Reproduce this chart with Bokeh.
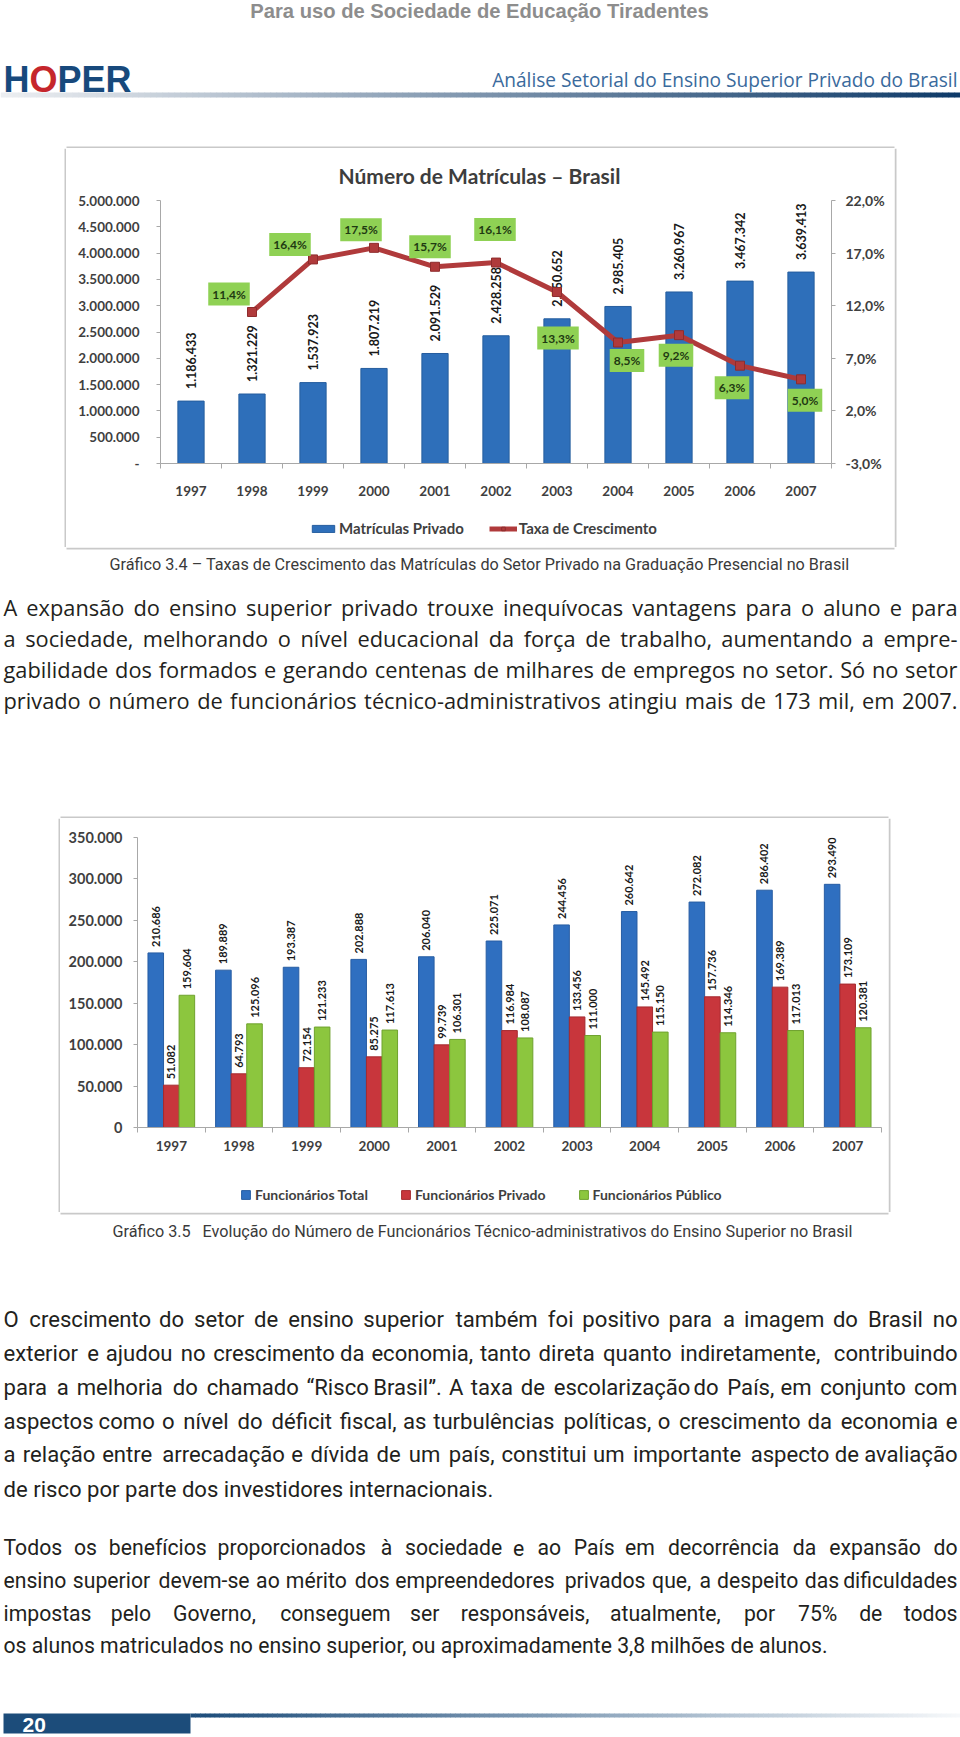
import math
import unicodedata
from bokeh.plotting import figure
from bokeh.layouts import column, row
from bokeh.models import Range1d, FixedTicker, LinearAxis, Legend, LegendItem
from bokeh.core.properties import value
from bokeh.embed import file_html
from bokeh.resources import INLINE

# ---------------- data ----------------
years = ["1997", "1998", "1999", "2000", "2001", "2002", "2003", "2004", "2005", "2006", "2007"]
matriculas_privado = [1186433, 1321229, 1537923, 1807219, 2091529, 2428258,
                      2750652, 2985405, 3260967, 3467342, 3639413]
taxa_crescimento = [None, 11.4, 16.4, 17.5, 15.7, 16.1, 13.3, 8.5, 9.2, 6.3, 5.0]

func_total = [210686, 189889, 193387, 202888, 206040, 225071, 244456, 260642, 272082, 286402, 293490]
func_privado = [51082, 64793, 72154, 85275, 99739, 116984, 133456, 145492, 157736, 169389, 173109]
func_publico = [159604, 125096, 121233, 117613, 106301, 108087, 111000, 115150, 114346, 117013, 120381]

left_ticks_1 = [0, 500000, 1000000, 1500000, 2000000, 2500000, 3000000, 3500000, 4000000, 4500000, 5000000]
right_ticks_1 = [-3, 2, 7, 12, 17, 22]
left_ticks_2 = [0, 50000, 100000, 150000, 200000, 250000, 300000, 350000]

header_text = "Para uso de Sociedade de Educação Tiradentes"
subtitle_text = "Análise Setorial do Ensino Superior Privado do Brasil"
chart1_title = "Número de Matrículas – Brasil"
caption1 = "Gráfico 3.4 – Taxas de Crescimento das Matrículas do Setor Privado na Graduação Presencial no Brasil"
caption2_a = "Gráfico 3.5"
caption2_b = "Evolução do Número de Funcionários Técnico-administrativos do Ensino Superior no Brasil"
par1 = [
    "A expansão do ensino superior privado trouxe inequívocas vantagens para o aluno e para",
    "a sociedade, melhorando o nível educacional da força de trabalho, aumentando a empre-",
    "gabilidade dos formados e gerando centenas de milhares de empregos no setor. Só no setor",
    "privado o número de funcionários técnico-administrativos atingiu mais de 173 mil, em 2007.",
]
par2 = [
    "O crescimento do setor de ensino superior também foi positivo para a imagem do Brasil no",
    "exterior e ajudou no crescimento da economia, tanto direta quanto indiretamente, contribuindo",
    "para a melhoria do chamado “Risco Brasil”. A taxa de escolarização do País, em conjunto com",
    "aspectos como o nível do déficit fiscal, as turbulências políticas, o crescimento da economia e",
    "a relação entre arrecadação e dívida de um país, constitui um importante aspecto de avaliação",
    "de risco por parte dos investidores internacionais.",
]
par3 = [
    "Todos os benefícios proporcionados à sociedade e ao País em decorrência da expansão do",
    "ensino superior devem-se ao mérito dos empreendedores privados que, a despeito das dificuldades",
    "impostas pelo Governo, conseguem ser responsáveis, atualmente, por 75% de todos",
    "os alunos matriculados no ensino superior, ou aproximadamente 3,8 milhões de alunos.",
]
page_number = "20"

# ---------------- helpers ----------------
_OS = dict(zip("abcdefghijklmnopqrstuvwxyz",
               [.556, .613, .48, .613, .561, .336, .546, .614, .252, .252, .529, .252, .93,
                .614, .602, .613, .613, .41, .48, .35, .614, .499, .775, .518, .502, .468]))
_OS.update(zip("ABCDEFGHIJKLMNOPQRSTUVWXYZ",
               [.633, .647, .631, .729, .556, .516, .728, .738, .279, .267, .614, .519, .903,
                .754, .779, .602, .779, .618, .549, .553, .729, .6, .93, .577, .556, .572]))
_OS.update({d: .572 for d in "0123456789"})
_OS.update({" ": .26, ",": .245, ".": .267, "-": .32, "–": .5, "%": .83, "“": .35, "”": .35,
            ":": .267, "(": .3, ")": .3})
FONT_F = {"Open Sans": 1.0, "Roboto": 0.95, "Lato": 0.93, "Liberation Sans": 1.03}
PAGE_W = 960
BOX_COL = "#c9c9c9"
NAN = float("nan")


def em(s):
    t = 0.0
    for c in s:
        b = unicodedata.normalize("NFD", c)[0]
        t += _OS.get(b, .55)
    return t


def fmt_int(v):
    return f"{v:,}".replace(",", ".")


def fmt_pct(v):
    return f"{v:.1f}".replace(".", ",") + "%"


def page_fig(top, bottom, x0=0, x1=PAGE_W):
    p = figure(width=x1 - x0, height=bottom - top, x_range=Range1d(x0, x1), y_range=Range1d(bottom, top),
               output_backend="svg", toolbar_location=None, min_border=0,
               x_axis_location=None, y_axis_location=None, outline_line_color=None,
               background_fill_color="white", border_fill_color="white")
    p.grid.visible = False
    return p


def lerp_col(c0, c1, t):
    return "#%02x%02x%02x" % tuple(int(round(a + (b - a) * t)) for a, b in zip(c0, c1))


def draw_par(p, lines, ys, x0, x1, font, size_target, color, justify):
    f = FONT_F[font]
    W = x1 - x0
    s = size_target
    for ln, j in zip(lines, justify):
        if j:
            s = min(s, 0.985 * W / (f * em(ln)))
    lx, ly, lt, rx, ry, rt = [], [], [], [], [], []
    for ln, y, j in zip(lines, ys, justify):
        words = ln.split(" ")
        if j and len(words) > 1:
            widths = [s * f * em(w) for w in words]
            gap = (W - sum(widths)) / (len(words) - 1)
            x = x0
            for w, a in zip(words[:-1], widths[:-1]):
                lx.append(x); ly.append(y); lt.append(w)
                x += a + gap
            rx.append(x1); ry.append(y); rt.append(words[-1])
        else:
            lx.append(x0); ly.append(y); lt.append(ln)
    common = dict(text_font=value(font), text_font_size=f"{s:.1f}px", text_color=color,
                  text_baseline="middle")
    p.text(x=lx, y=ly, text=lt, text_align="left", **common)
    if rx:
        p.text(x=rx, y=ry, text=rt, text_align="right", **common)


def style_axis(ax, size, standoff):
    ax.major_label_text_font = "Lato"
    ax.major_label_text_font_style = "bold"
    ax.major_label_text_font_size = size
    ax.major_label_text_color = "#3f3f3f"
    ax.axis_line_color = "#a8a8a8"
    ax.major_tick_line_color = "#a8a8a8"
    ax.major_label_standoff = standoff


def legend_fig(width, height):
    p = figure(width=width, height=height, x_range=Range1d(0, 1), y_range=Range1d(0, 1),
               output_backend="svg", toolbar_location=None, min_border=0,
               x_axis_location=None, y_axis_location=None, outline_line_color=None,
               background_fill_color="white", border_fill_color="white")
    p.grid.visible = False
    return p


def box_side(top, bottom, x0, x1, line_x0, line_x1):
    p = page_fig(top, bottom, x0, x1)
    p.quad(left=line_x0, right=line_x1, top=top, bottom=bottom, color=BOX_COL, line_color=None)
    return p


# ---------------- header ----------------
hdr = page_fig(0, 148)
hs = 456 / (FONT_F["Liberation Sans"] * em(header_text))
hdr.text(x=[479], y=[10], text=[header_text], text_align="center", text_baseline="middle",
         text_font=value("Liberation Sans"), text_font_style="bold", text_font_size=f"{hs:.1f}px",
         text_color="#8d8d8d")
logo_sz = 36
hdr.text(x=[3], y=[79], text=["H"], text_font=value("Liberation Sans"), text_font_style="bold",
         text_font_size=f"{logo_sz}px", text_color="#17497c", text_baseline="middle")
hdr.text(x=[3 + .722 * logo_sz], y=[79], text=["O"], text_font=value("Liberation Sans"),
         text_font_style="bold", text_font_size=f"{logo_sz}px", text_color="#c5262c",
         text_baseline="middle")
hdr.text(x=[3 + 1.5 * logo_sz], y=[79], text=["PER"], text_font=value("Liberation Sans"),
         text_font_style="bold", text_font_size=f"{logo_sz}px", text_color="#17497c",
         text_baseline="middle")
ss = 467 / em(subtitle_text)
hdr.text(x=[957], y=[79], text=[subtitle_text], text_align="right", text_baseline="middle",
         text_font=value("Open Sans"), text_font_size=f"{ss:.1f}px", text_color="#3a6a9c")
nseg = 160
gl = [PAGE_W * k / nseg for k in range(nseg)]
gr = [PAGE_W * (k + 1) / nseg + 0.6 for k in range(nseg)]
gc = [lerp_col((236, 238, 241), (14, 58, 104), k / (nseg - 1)) for k in range(nseg)]
hdr.quad(left=gl, right=gr, top=92, bottom=97, color=gc, line_color=None)
# top edge of chart-1 box
hdr.quad(left=66, right=894, top=146, bottom=148, color=BOX_COL, line_color=None)

# ---------------- chart 1 ----------------
xi = list(range(len(years)))
BAR1, LINE1 = "#2e6fba", "#b03a3b"
p1 = figure(width=828, height=352, output_backend="svg", toolbar_location=None,
            x_range=Range1d(-0.5, 10.5), y_range=Range1d(0, 5000000),
            min_border_left=94, min_border_right=63, min_border_top=51, min_border_bottom=37,
            outline_line_color=None, border_fill_color="white", background_fill_color="white",
            title=chart1_title)
p1.grid.visible = False
p1.title.align = "left"
p1.title.offset = 178
p1.title.standoff = 25
p1.title.text_font = "Lato"
p1.title.text_font_size = "21px"
p1.title.text_font_style = "bold"
p1.title.text_color = "#3d3d3d"
p1.extra_y_ranges = {"pct": Range1d(-3, 22)}

p1.vbar(x=xi, top=matriculas_privado, width=0.43, fill_color=BAR1, line_color="#255d9e")
bar_lbl = [fmt_int(v) for v in matriculas_privado]
p1.text(x=xi, y=matriculas_privado, text=bar_lbl, angle=math.pi / 2, y_offset=-12,
        text_align="left", text_baseline="middle", text_font=value("Lato"), text_font_style="bold",
        text_font_size="12.5px", text_color="#1a1a1a")

lx = [i for i, v in zip(xi, taxa_crescimento) if v is not None]
ly = [v for v in taxa_crescimento if v is not None]
p1.line(x=lx, y=ly, y_range_name="pct", line_color=LINE1, line_width=5)
p1.scatter(x=lx, y=ly, y_range_name="pct", marker="square", size=9,
           fill_color=LINE1, line_color="#8e2c2d")
# label box offsets (screen px) - placement only
pct_dx = [-23, -23, -13, -5, -1, 1, 9, -3, -8, 4]
pct_dy = [-18, -15, -18, -20, -33, 46, 18, 20, 22, 21]
p1.text(x=lx, y=ly, text=[fmt_pct(v) for v in ly], y_range_name="pct",
        x_offset=pct_dx, y_offset=pct_dy, text_align="center", text_baseline="middle",
        text_font=value("Lato"), text_font_style="bold", text_font_size="12px",
        text_color="#1f3a12", background_fill_color="#8fd154", padding=4)

ya = p1.yaxis[0]
ya.ticker = FixedTicker(ticks=left_ticks_1)
ya.major_label_overrides = {t: ("-" if t == 0 else fmt_int(t)) for t in left_ticks_1}
ya.minor_tick_line_color = None
ya.major_tick_out = 4
ya.major_tick_in = 0
style_axis(ya, "13.5px", 17)

yr = LinearAxis(y_range_name="pct", ticker=FixedTicker(ticks=right_ticks_1),
                major_label_overrides={t: fmt_pct(t) for t in right_ticks_1})
yr.minor_tick_line_color = None
yr.major_tick_out = 4
yr.major_tick_in = 0
style_axis(yr, "14px", 10)
p1.add_layout(yr, "right")

xa = p1.xaxis[0]
xa.ticker = FixedTicker(ticks=xi, minor_ticks=[i - 0.5 for i in range(len(years) + 1)])
xa.major_label_overrides = {i: y for i, y in zip(xi, years)}
xa.major_tick_out = 0
xa.major_tick_in = 0
xa.minor_tick_out = 5
xa.minor_tick_in = 0
xa.minor_tick_line_color = "#a8a8a8"
style_axis(xa, "13.5px", 17)

# legend strip of chart 1 (swatch-only renderers hold no drawable point)
lg1 = legend_fig(828, 47)
sw_bar = lg1.vbar(x=[NAN], top=[NAN], width=0.4, fill_color=BAR1, line_color="#255d9e")
sw_line = lg1.line(x=[NAN], y=[NAN], line_color=LINE1, line_width=5)
sw_pt = lg1.scatter(x=[NAN], y=[NAN], marker="square", size=9, fill_color=LINE1, line_color="#8e2c2d")
leg1 = Legend(items=[LegendItem(label="Matrículas Privado", renderers=[sw_bar]),
                     LegendItem(label="Taxa de Crescimento", renderers=[sw_line, sw_pt])],
              orientation="horizontal", location=(149, 10), border_line_color=None,
              background_fill_alpha=0, glyph_width=28, glyph_height=9, spacing=25,
              label_standoff=2, margin=0, padding=3,
              label_text_font="Lato", label_text_font_style="bold", label_text_font_size="15px",
              label_text_color="#3f3f3f")
lg1.add_layout(leg1, "center")

# ---------------- text block 1 ----------------
t1 = page_fig(547, 818)
t1.quad(left=66, right=894, top=547, bottom=549, color=BOX_COL, line_color=None)
t1.quad(left=60, right=888, top=816, bottom=818, color=BOX_COL, line_color=None)
cs = 730 / (FONT_F["Roboto"] * em(caption1))
t1.text(x=[479], y=[564], text=[caption1], text_align="center", text_baseline="middle",
        text_font=value("Roboto"), text_font_size=f"{cs:.1f}px", text_color="#3a3a3a")
draw_par(t1, par1, [607, 638, 669, 700], 3, 957, "Open Sans", 22, "#231f20", [True, True, True, True])

# ---------------- chart 2 ----------------
p2 = figure(width=828, height=352, output_backend="svg", toolbar_location=None,
            x_range=Range1d(-0.5, 10.5), y_range=Range1d(0, 350000),
            min_border_left=77, min_border_right=7, min_border_top=19, min_border_bottom=43,
            outline_line_color=None, border_fill_color="white", background_fill_color="white")
p2.grid.visible = False
lg2 = legend_fig(828, 42)
bw = 0.23
series2 = [(func_total, "Funcionários Total", "#2f6fc0", "#275da3", -bw),
           (func_privado, "Funcionários Privado", "#c8363c", "#a52a2f", 0.0),
           (func_publico, "Funcionários Público", "#8cc63e", "#6fa22e", bw)]
items2 = []
for vals, name, col, lcol, off in series2:
    xs = [i + off for i in xi]
    p2.vbar(x=xs, top=vals, width=bw, fill_color=col, line_color=lcol)
    p2.text(x=xs, y=vals, text=[fmt_int(v) for v in vals], angle=math.pi / 2, y_offset=-6,
            text_align="left", text_baseline="middle", text_font=value("Lato"),
            text_font_style="bold", text_font_size="11px", text_color="#1a1a1a")
    sw = lg2.vbar(x=[NAN], top=[NAN], width=0.2, fill_color=col, line_color=lcol)
    items2.append(LegendItem(label=name, renderers=[sw]))

ya2 = p2.yaxis[0]
ya2.ticker = FixedTicker(ticks=left_ticks_2)
ya2.major_label_overrides = {t: fmt_int(t) for t in left_ticks_2}
ya2.minor_tick_line_color = None
ya2.major_tick_out = 4
ya2.major_tick_in = 0
style_axis(ya2, "14.5px", 11)

xa2 = p2.xaxis[0]
xa2.ticker = FixedTicker(ticks=xi, minor_ticks=[i - 0.5 for i in range(len(years) + 1)])
xa2.major_label_overrides = {i: y for i, y in zip(xi, years)}
xa2.major_tick_out = 0
xa2.major_tick_in = 0
xa2.minor_tick_out = 5
xa2.minor_tick_in = 0
xa2.minor_tick_line_color = "#a8a8a8"
style_axis(xa2, "13.5px", 8)

leg2 = Legend(items=items2, orientation="horizontal", location=(103, 9), border_line_color=None,
              background_fill_alpha=0, glyph_width=11, glyph_height=11, spacing=32,
              label_standoff=4, margin=0, padding=3, label_height=16,
              label_text_font="Lato", label_text_font_style="bold", label_text_font_size="14px",
              label_text_color="#3f3f3f")
lg2.add_layout(leg2, "center")

# ---------------- text block 2 ----------------
t2 = page_fig(1212, 1737)
t2.quad(left=60, right=888, top=1212, bottom=1214, color=BOX_COL, line_color=None)
cs2 = 649 / (FONT_F["Roboto"] * em(caption2_b))
t2.text(x=[112], y=[1231], text=[caption2_a], text_align="left", text_baseline="middle",
        text_font=value("Roboto"), text_font_size=f"{cs2:.1f}px", text_color="#3a3a3a")
t2.text(x=[202], y=[1231], text=[caption2_b], text_align="left", text_baseline="middle",
        text_font=value("Roboto"), text_font_size=f"{cs2:.1f}px", text_color="#3a3a3a")
draw_par(t2, par2, [1318, 1352, 1386, 1420, 1453, 1488], 3, 957, "Roboto", 23, "#231f20",
         [True, True, True, True, True, False])
draw_par(t2, par3, [1547, 1580, 1613, 1645], 3, 957, "Roboto", 23, "#231f20",
         [True, True, True, False])
# footer
t2.quad(left=3, right=190, top=1713, bottom=1733, color="#1c4c7a", line_color=None)
fl = [190 + (PAGE_W - 190) * k / nseg for k in range(nseg)]
fr = [190 + (PAGE_W - 190) * (k + 1) / nseg + 0.6 for k in range(nseg)]
fc = [lerp_col((28, 76, 122), (246, 248, 250), k / (nseg - 1)) for k in range(nseg)]
t2.quad(left=fl, right=fr, top=1713, bottom=1717, color=fc, line_color=None)
t2.text(x=[22], y=[1724], text=[page_number], text_align="left", text_baseline="middle",
        text_font=value("Liberation Sans"), text_font_style="bold", text_font_size="21px",
        text_color="white")

layout = column(
    hdr,
    row(box_side(148, 547, 0, 66, 64, 66), column(p1, lg1), box_side(148, 547, 894, 960, 894, 896)),
    t1,
    row(box_side(818, 1212, 0, 60, 58, 60), column(p2, lg2), box_side(818, 1212, 888, 960, 888, 890)),
    t2,
)

open("out.html", "w").write(file_html(layout, INLINE))
